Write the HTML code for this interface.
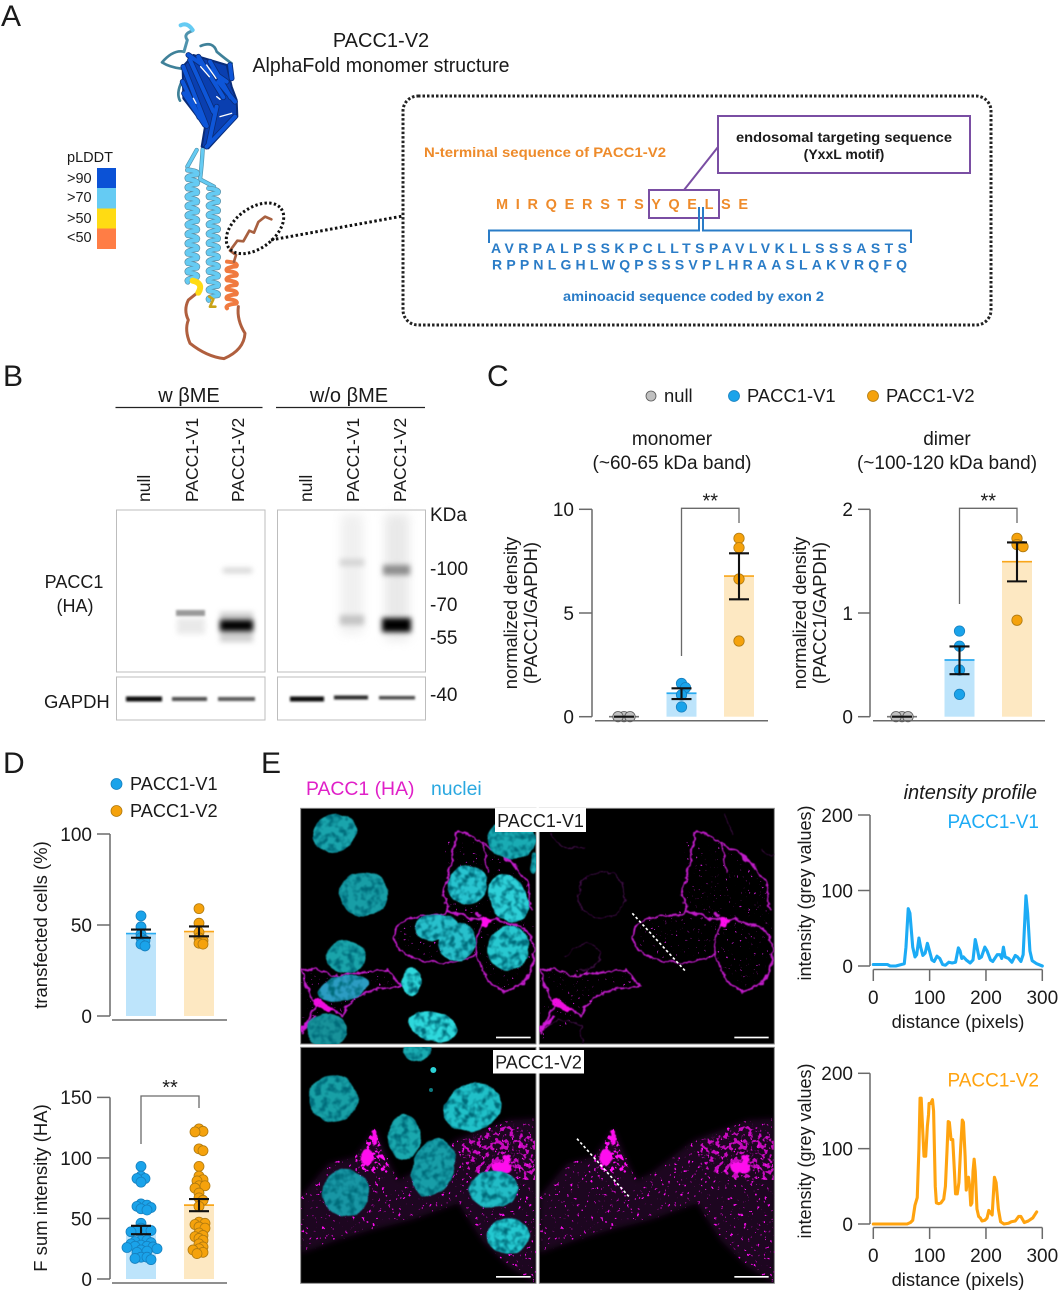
<!DOCTYPE html>
<html lang="en">
<head>
<meta charset="utf-8">
<title>PACC1-V2 figure</title>
<style>
html,body{margin:0;padding:0;background:#fff;width:1059px;height:1292px;overflow:hidden}
svg{display:block}
text{font-family:"Liberation Sans",Arial,sans-serif;fill:#1a1a1a}
</style>
</head>
<body>
<svg id="figure" xmlns="http://www.w3.org/2000/svg" width="1059" height="1292" viewBox="0 0 1059 1292">
<defs>
<filter id="blur1" x="-40%" y="-300%" width="180%" height="700%"><feGaussianBlur stdDeviation="1.1"/></filter>
<filter id="blur2" x="-40%" y="-300%" width="180%" height="700%"><feGaussianBlur stdDeviation="2.6"/></filter>
<filter id="blur5" x="-60%" y="-20%" width="220%" height="140%"><feGaussianBlur stdDeviation="5"/></filter>
<filter id="soft" x="-10%" y="-10%" width="120%" height="120%"><feGaussianBlur stdDeviation="1.4"/></filter>
<filter id="organic" x="-10%" y="-10%" width="120%" height="120%">
<feTurbulence type="fractalNoise" baseFrequency="0.035" numOctaves="3" seed="7" result="n"/>
<feDisplacementMap in="SourceGraphic" in2="n" scale="22" xChannelSelector="R" yChannelSelector="G"/>
<feGaussianBlur stdDeviation="1.3"/>
</filter>
<filter id="mottle" x="-10%" y="-10%" width="120%" height="120%" color-interpolation-filters="sRGB">
<feTurbulence type="fractalNoise" baseFrequency="0.025" numOctaves="2" seed="4" result="n"/>
<feDisplacementMap in="SourceGraphic" in2="n" scale="14" xChannelSelector="R" yChannelSelector="G" result="d"/>
<feTurbulence type="fractalNoise" baseFrequency="0.05" numOctaves="2" seed="9" result="m"/>
<feColorMatrix in="m" type="matrix" values="0 0 0 0 0  0 0 0 0 0.42  0 0 0 0 0.48  3.2 0 0 0 -1.35" result="dark"/>
<feComposite in="dark" in2="d" operator="in" result="dk"/>
<feMerge result="mg"><feMergeNode in="d"/><feMergeNode in="dk"/></feMerge>
<feGaussianBlur in="mg" stdDeviation="1.5"/>
</filter>
<filter id="puncta" x="0" y="0" width="100%" height="100%" color-interpolation-filters="sRGB">
<feTurbulence type="fractalNoise" baseFrequency="0.1" numOctaves="2" seed="12"/>
<feColorMatrix type="matrix" values="0 0 0 0 1  0 0 0 0 0.05  0 0 0 0 0.95  14 0 0 0 -9.6" result="p"/>
<feComposite in="p" in2="SourceAlpha" operator="in" result="q"/>
<feGaussianBlur in="q" stdDeviation="0.9"/>
</filter>
<filter id="punctaDense" x="0" y="0" width="100%" height="100%" color-interpolation-filters="sRGB">
<feTurbulence type="fractalNoise" baseFrequency="0.07" numOctaves="2" seed="21"/>
<feColorMatrix type="matrix" values="0 0 0 0 1  0 0 0 0 0.05  0 0 0 0 0.95  14 0 0 0 -7.4" result="p"/>
<feComposite in="p" in2="SourceAlpha" operator="in" result="q"/>
<feGaussianBlur in="q" stdDeviation="1"/>
</filter>
<filter id="punctaFaint" x="0" y="0" width="100%" height="100%" color-interpolation-filters="sRGB">
<feTurbulence type="fractalNoise" baseFrequency="0.12" numOctaves="2" seed="31"/>
<feColorMatrix type="matrix" values="0 0 0 0 0.75  0 0 0 0 0.1  0 0 0 0 0.78  12 0 0 0 -8.6" result="p"/>
<feComposite in="p" in2="SourceAlpha" operator="in" result="q"/>
<feGaussianBlur in="q" stdDeviation="0.9"/>
</filter>
<filter id="haze" x="-5%" y="-5%" width="110%" height="110%"><feGaussianBlur stdDeviation="9"/></filter>
<clipPath id="clipV1L"><rect x="17" y="25" width="706" height="707"/></clipPath>
<clipPath id="clipV1R"><rect x="733" y="25" width="705" height="707"/></clipPath>
<clipPath id="clipV2L"><rect x="17" y="22" width="706" height="708"/></clipPath>
<clipPath id="clipV2R"><rect x="733" y="22" width="705" height="708"/></clipPath>
</defs>

<!-- panel letters -->
<text x="1" y="26" font-size="30">A</text>
<text x="3" y="386" font-size="30">B</text>
<text x="487" y="386" font-size="30">C</text>
<text x="3" y="773" font-size="30">D</text>
<text x="261" y="773" font-size="30">E</text>

<!-- panel A -->
<g>
<text x="381" y="47" font-size="20" text-anchor="middle">PACC1-V2</text>
<text x="381" y="72" font-size="20" text-anchor="middle" textLength="257" lengthAdjust="spacingAndGlyphs">AlphaFold monomer structure</text>
<g>
<text x="67" y="162" font-size="14.5">pLDDT</text>
<text x="67" y="183" font-size="14.5">&gt;90</text>
<text x="67" y="202" font-size="14.5">&gt;70</text>
<text x="67" y="223" font-size="14.5">&gt;50</text>
<text x="67" y="242" font-size="14.5">&lt;50</text>
<rect x="97" y="168" width="19" height="20" fill="#0b52d6"/>
<rect x="97" y="188" width="19" height="20.500" fill="#65cbf3"/>
<rect x="97" y="208.500" width="19" height="20" fill="#ffdb13"/>
<rect x="97" y="228.500" width="19" height="20.500" fill="#ff7d45"/>
</g>
<g id="protein" transform="translate(50,10) scale(0.33333)" fill="none" stroke-linecap="round" stroke-linejoin="round">
<g>
<path d="M402 125 Q370 118 336 157 Q360 172 395 176 M452 108 Q490 92 500 125 Q530 150 545 160 M395 215 Q378 250 390 272" stroke="#3f8199" stroke-width="8"/>
<path d="M392 46 Q412 36 428 62 Q398 72 412 90 L402 125" stroke="#4f93ad" stroke-width="9"/>
<path d="M392 46 Q412 36 428 60" stroke="#65cbf3" stroke-width="12"/>
<path d="M440 420 L412 470 M458 418 Q455 470 450 508 L492 530" stroke="#4f93ad" stroke-width="13"/>
<path d="M440 420 L412 470 M458 418 Q455 470 450 508 L492 530" stroke="#65cbf3" stroke-width="9"/>
</g>
<g>
<polygon points="398,170 430,135 530,165 545,230 560,270 562,320 475,415 455,410 465,350 400,265" fill="#0a3fb0" stroke="#0a2c78" stroke-width="6"/>
<g stroke="#0a2c78" stroke-width="17">
<path d="M400 170 L470 348 M420 150 L490 305 M445 140 L520 262 M480 155 L542 262 M398 215 L448 322 M415 135 L530 215 M402 250 L465 345 M500 290 L475 405 M555 320 L470 410 M540 165 L545 205 M505 215 L555 275"/>
</g>
<g stroke="#0e56d8" stroke-width="12">
<path d="M400 170 L470 348 M420 150 L490 305 M445 140 L520 262 M480 155 L542 262 M398 215 L448 322 M415 135 L530 215 M402 250 L465 345 M500 290 L475 405 M555 320 L470 410 M540 165 L545 205 M505 215 L555 275"/>
</g>
<g stroke="#fff" stroke-width="4">
<path d="M452 170 L478 200 M470 165 L498 205 M500 260 L510 268 M430 265 L438 280 M545 310 L510 320"/>
</g>
</g>
<g id="helices"></g>
<path d="M440 850 L415 870 Q400 900 415 930 Q403 960 420 1000 Q470 1040 522 1046 Q582 1020 585 970 Q560 930 565 890" stroke="#b05f3e" stroke-width="9"/>
<path d="M428 812 Q462 820 445 848" stroke="#ffdb13" stroke-width="18"/>
<path d="M478 860 L490 868 L480 890 L496 890" stroke="#c9a317" stroke-width="8"/>
<path d="M552 755 L558 735 L540 722 L562 692 L580 694 L598 662 L612 668 L625 636 L645 620 L664 628" stroke="#a86040" stroke-width="8"/>
<ellipse cx="615" cy="655" rx="98" ry="60" transform="rotate(-37 615 655)" stroke="#111" stroke-width="9" stroke-dasharray="7 7" stroke-linecap="butt"/>
</g>
<line x1="271" y1="240" x2="403" y2="216" stroke="#111" stroke-width="3" stroke-dasharray="2.500 2.500"/>
<rect x="403" y="96" width="588" height="229" rx="15" fill="none" stroke="#222" stroke-width="3" stroke-dasharray="2.500 2"/>
<text x="424" y="157" font-size="14" font-weight="bold" style="fill:#ee8b2b" textLength="242" lengthAdjust="spacingAndGlyphs">N-terminal sequence of PACC1-V2</text>
<rect x="718" y="116" width="252" height="57" fill="#fff" stroke="#7a4ea3" stroke-width="2"/>
<text x="844" y="142" font-size="14" font-weight="bold" text-anchor="middle" textLength="216" lengthAdjust="spacingAndGlyphs">endosomal targeting sequence</text>
<text x="844" y="159" font-size="14" font-weight="bold" text-anchor="middle">(YxxL motif)</text>
<line x1="718" y1="147" x2="684" y2="190" stroke="#7a4ea3" stroke-width="2"/>
<rect x="649" y="190" width="70" height="28" fill="none" stroke="#7a4ea3" stroke-width="2"/>
<text x="496" y="209" font-size="14.500" font-weight="bold" style="fill:#ee8b2b" textLength="252" lengthAdjust="spacing">M I R Q E R S T S Y Q E L S E</text>
<path d="M489 243 V230.500 H699 V207 M703 207 V230.500 H911 V243" fill="none" stroke="#2a7cc7" stroke-width="2"/>
<text x="491" y="253" font-size="14" font-weight="bold" style="fill:#2a7cc7" textLength="416" lengthAdjust="spacing">AVRPALPSSKPCLLTSPAVLVKLLSSSASTS</text>
<text x="492" y="269.500" font-size="14" font-weight="bold" style="fill:#2a7cc7" textLength="415" lengthAdjust="spacing">RPPNLGHLWQPSSSVPLHRAASLAKVRQFQ</text>
<text x="563" y="301" font-size="14" font-weight="bold" style="fill:#2a7cc7" textLength="261" lengthAdjust="spacingAndGlyphs">aminoacid sequence coded by exon 2</text>
</g>

<!-- panel B -->
<g>
<text x="189" y="402" font-size="20" text-anchor="middle">w βME</text>
<text x="349" y="402" font-size="20" text-anchor="middle">w/o βME</text>
<line x1="115.500" y1="407.500" x2="262.500" y2="407.500" stroke="#222" stroke-width="1.300"/>
<line x1="276" y1="407.500" x2="425" y2="407.500" stroke="#222" stroke-width="1.300"/>
<text transform="translate(150,502) rotate(-90)" font-size="17.500">null</text>
<text transform="translate(198,502) rotate(-90)" font-size="17.500">PACC1-V1</text>
<text transform="translate(244,502) rotate(-90)" font-size="17.500">PACC1-V2</text>
<text transform="translate(312,502) rotate(-90)" font-size="17.500">null</text>
<text transform="translate(359,502) rotate(-90)" font-size="17.500">PACC1-V1</text>
<text transform="translate(406,502) rotate(-90)" font-size="17.500">PACC1-V2</text>
<text x="74" y="588" font-size="18" text-anchor="middle">PACC1</text>
<text x="75" y="612" font-size="18" text-anchor="middle">(HA)</text>
<text x="44" y="708" font-size="18.500">GAPDH</text>
<text x="430" y="521" font-size="19">KDa</text>
<text x="430" y="575" font-size="19">-100</text>
<text x="430" y="611" font-size="19">-70</text>
<text x="430" y="644" font-size="19">-55</text>
<text x="430" y="701" font-size="19">-40</text>
<g>
<rect x="116.500" y="510" width="148.500" height="162" fill="#fff" stroke="#bdbdbd" stroke-width="1"/>
<rect x="177" y="618" width="28" height="16" fill="#d8d8d8" opacity="0.55" filter="url(#blur2)"/>
<rect x="176" y="610" width="29" height="6" fill="#9a9a9a" filter="url(#blur1)"/>
<rect x="223" y="568" width="29" height="5" fill="#d2d2d2" filter="url(#blur2)"/>
<rect x="220" y="612" width="33" height="30" fill="#a0a0a0" opacity="0.5" filter="url(#blur2)"/>
<rect x="220" y="620" width="33" height="11" fill="#050505" filter="url(#blur2)"/>
</g>
<g>
<rect x="277.500" y="510" width="148" height="162" fill="#fff" stroke="#bdbdbd" stroke-width="1"/>
<rect x="341" y="514" width="22" height="120" fill="#ebebeb" opacity="0.75" filter="url(#blur5)"/>
<rect x="340" y="559" width="24" height="7" fill="#d4d4d4" filter="url(#blur2)"/>
<rect x="340" y="615" width="24" height="10" fill="#c4c4c4" filter="url(#blur2)"/>
<rect x="385" y="514" width="24" height="126" fill="#e2e2e2" opacity="0.75" filter="url(#blur5)"/>
<rect x="383" y="565" width="27" height="10" fill="#8c8c8c" filter="url(#blur2)"/>
<rect x="382" y="618" width="29" height="14" fill="#000" filter="url(#blur2)"/>
</g>
<g>
<rect x="116.500" y="677" width="148.500" height="43" fill="#fff" stroke="#bdbdbd" stroke-width="1"/>
<rect x="277.500" y="677" width="148" height="43" fill="#fff" stroke="#bdbdbd" stroke-width="1"/>
<rect x="126" y="696.500" width="36" height="5" fill="#0c0c0c" filter="url(#blur1)"/>
<rect x="172" y="697" width="35" height="4" fill="#505050" filter="url(#blur1)"/>
<rect x="218" y="697" width="37" height="4" fill="#5a5a5a" filter="url(#blur1)"/>
<rect x="290" y="696.500" width="34" height="5" fill="#0c0c0c" filter="url(#blur1)"/>
<rect x="334" y="695.500" width="34" height="4" fill="#2a2a2a" filter="url(#blur1)"/>
<rect x="379" y="696" width="36" height="3.500" fill="#4a4a4a" filter="url(#blur1)"/>
</g>
</g>

<!-- panel C static text -->
<g>
<circle cx="651" cy="396" r="5" fill="#c0c0c0" stroke="#555" stroke-width="0.8"/>
<text x="664" y="402" font-size="18.400">null</text>
<circle cx="734" cy="396" r="5.500" fill="#1aa3ea" stroke="#1680bf" stroke-width="0.8"/>
<text x="747" y="402" font-size="18.400">PACC1-V1</text>
<circle cx="873" cy="396" r="5.500" fill="#f5a20c" stroke="#b07a10" stroke-width="0.8"/>
<text x="886" y="402" font-size="18.400">PACC1-V2</text>
</g>
<text x="672" y="445" font-size="19" text-anchor="middle">monomer</text>
<text x="672" y="469" font-size="19" text-anchor="middle">(~60-65 kDa band)</text>
<text x="947" y="445" font-size="19" text-anchor="middle">dimer</text>
<text x="947" y="469" font-size="19" text-anchor="middle">(~100-120 kDa band)</text>
<text transform="translate(517,613) rotate(-90)" font-size="18.300" text-anchor="middle">normalized density</text>
<text transform="translate(537,613) rotate(-90)" font-size="18.300" text-anchor="middle">(PACC1/GAPDH)</text>
<text transform="translate(806,613) rotate(-90)" font-size="18.300" text-anchor="middle">normalized density</text>
<text transform="translate(826,613) rotate(-90)" font-size="18.300" text-anchor="middle">(PACC1/GAPDH)</text>

<!-- panel D static text -->
<g>
<circle cx="116.500" cy="784" r="5.500" fill="#1aa3ea" stroke="#1680bf" stroke-width="0.8"/>
<text x="130" y="790" font-size="18.200">PACC1-V1</text>
<circle cx="116.500" cy="811" r="5.500" fill="#f5a20c" stroke="#b07a10" stroke-width="0.8"/>
<text x="130" y="817" font-size="18.200">PACC1-V2</text>
</g>
<text transform="translate(47,925) rotate(-90)" font-size="18.500" text-anchor="middle">transfected cells (%)</text>
<text transform="translate(47,1188) rotate(-90)" font-size="18.500" text-anchor="middle">F sum intensity (HA)</text>

<!-- panel E -->
<g>
<text x="306" y="795" font-size="19.400" style="fill:#e020c8">PACC1 (HA)</text>
<text x="431" y="795" font-size="19.400" style="fill:#2aa8e0">nuclei</text>
<text x="1037" y="799" font-size="20" font-style="italic" text-anchor="end">intensity profile</text>

<g transform="translate(295,800) scale(0.33333)">
<rect x="17" y="25" width="706" height="707" fill="#000" stroke="#888" stroke-width="3"/>
<rect x="733" y="25" width="705" height="707" fill="#000" stroke="#888" stroke-width="3"/>
<g clip-path="url(#clipV1L)">
<g id="v1Membrane" fill="none" stroke="#c01ac8" stroke-width="5" filter="url(#organic)" stroke-linecap="round">
<path d="M490 92 L560 128 Q650 170 695 250 L710 330 M490 92 Q470 170 460 230 Q440 260 445 290 Q465 320 460 335 M560 128 Q580 180 575 215 M460 335 Q520 350 565 368"/>
<path d="M565 368 Q510 345 460 335 Q400 355 340 352 Q300 375 300 410 Q310 460 350 470 Q400 490 450 490 Q510 480 545 465 Q540 420 565 368"/>
<path d="M565 368 L600 360 Q680 370 705 410 Q725 450 715 490 Q700 560 620 575 Q580 560 545 465"/>
<path d="M20 510 Q60 500 110 525 Q190 520 275 508 Q300 540 320 560 Q240 560 190 590 Q150 620 140 650 Q100 610 60 610 Q30 570 20 510 M70 610 Q30 670 20 700"/>
<path d="M65 605 L105 628" stroke="#f010e0" stroke-width="20"/>
<path d="M20 690 L60 650" stroke="#d014d8" stroke-width="10"/>
<circle cx="570" cy="368" r="12" fill="#ff10ee" stroke="#ff10ee"/>
<path d="M545 340 L552 352" stroke-width="10"/>
</g>
<polygon points="450,120 560,130 700,260 715,350 720,500 620,575 545,470 350,480 300,410 340,350 450,330" filter="url(#punctaFaint)"/>
<polygon points="20,510 275,510 320,560 190,590 140,650 20,720" filter="url(#punctaFaint)"/>
<g filter="url(#mottle)" fill="#1fb4bc">
<ellipse cx="118" cy="100" rx="66" ry="58" transform="rotate(-20 118 100)" fill="#1aa4ac"/>
<ellipse cx="205" cy="282" rx="74" ry="66" fill="#189ea6"/>
<ellipse cx="152" cy="470" rx="60" ry="48" fill="#1aa4aa"/>
<ellipse cx="145" cy="565" rx="76" ry="38" transform="rotate(-14 145 565)" fill="#2c9cc2"/>
<ellipse cx="95" cy="692" rx="60" ry="52" fill="#18929a"/>
<ellipse cx="415" cy="680" rx="74" ry="44" transform="rotate(14 415 680)" fill="#2ed8dc"/>
<ellipse cx="518" cy="255" rx="58" ry="58" fill="#28c4d0"/>
<ellipse cx="640" cy="295" rx="56" ry="76" transform="rotate(-28 640 295)" fill="#2ed0d8"/>
<ellipse cx="640" cy="445" rx="60" ry="68" transform="rotate(15 640 445)" fill="#28c8d0"/>
<ellipse cx="425" cy="382" rx="68" ry="40" fill="#28c0cc"/>
<ellipse cx="485" cy="425" rx="56" ry="58" fill="#28c0cc"/>
<ellipse cx="650" cy="118" rx="74" ry="60" fill="#1aacb4"/>
<ellipse cx="350" cy="545" rx="30" ry="42" fill="#2ed8dc"/>
<ellipse cx="718" cy="188" rx="12" ry="30" fill="#1aacb4"/>
</g>
</g>
<g clip-path="url(#clipV1R)">
<use href="#v1Membrane" x="716"/>
<polygon points="1166,120 1276,130 1416,260 1431,350 1436,500 1336,575 1261,470 1066,480 1016,410 1056,350 1166,330" filter="url(#punctaFaint)"/>
<polygon points="736,510 991,510 1036,560 906,590 856,650 736,720" filter="url(#punctaFaint)"/>
<g fill="none" stroke="#3d0b44" stroke-width="3" filter="url(#organic)">
<path d="M770 100 Q790 160 870 140 M1290 40 L1310 100 M1400 150 Q1420 180 1438 160"/>
<circle cx="920" cy="285" r="70"/>
<path d="M810 470 Q880 400 920 460 Q915 510 850 510"/>
<path d="M750 690 Q790 640 860 680 L860 730"/>
</g>
<line x1="1012" y1="340" x2="1170" y2="512" stroke="#fff" stroke-width="5" stroke-dasharray="8 7"/>
</g>
<rect x="603" y="710" width="104" height="5" fill="#fff"/>
<rect x="1318" y="710" width="103" height="5" fill="#fff"/>
</g>

<g transform="translate(295,1040) scale(0.33333)">
<rect x="17" y="22" width="706" height="708" fill="#000" stroke="#888" stroke-width="3"/>
<rect x="733" y="22" width="705" height="708" fill="#000" stroke="#888" stroke-width="3"/>
<g clip-path="url(#clipV2L)">
<g id="v2Magenta">
<polygon points="17,640 17,470 100,370 180,350 240,265 285,370 310,420 350,400 480,300 640,240 723,235 723,730 640,680 560,600 490,490 350,540 230,570 130,600" fill="#3a0a40" opacity="0.5" filter="url(#haze)"/>
<polygon points="17,640 17,470 100,370 180,350 240,265 285,370 310,420 350,400 480,300 640,240 723,235 723,730 640,680 560,600 490,490 350,540 230,570 130,600" filter="url(#puncta)"/>
<polygon points="215,300 240,265 262,340 285,385 240,400 190,385 180,350" filter="url(#punctaDense)"/>
<polygon points="500,300 660,250 720,300 720,420 600,420 500,380" filter="url(#punctaDense)" opacity="0.75"/>
<g fill="#ff10ee" filter="url(#organic)">
<ellipse cx="218" cy="350" rx="20" ry="22"/>
<ellipse cx="236" cy="295" rx="8" ry="20"/>
<ellipse cx="622" cy="382" rx="34" ry="18"/>
<ellipse cx="634" cy="358" rx="10" ry="14"/>
</g>
</g>
<g filter="url(#mottle)">
<ellipse cx="115" cy="175" rx="74" ry="70" fill="#18a0a6"/>
<ellipse cx="365" cy="28" rx="42" ry="36" fill="#1aacb2"/>
<ellipse cx="532" cy="202" rx="88" ry="70" transform="rotate(-20 532 202)" fill="#20c0c8"/>
<ellipse cx="328" cy="292" rx="49" ry="68" fill="#1aa8ae"/>
<ellipse cx="415" cy="382" rx="62" ry="88" transform="rotate(20 415 382)" fill="#189ea8"/>
<ellipse cx="152" cy="458" rx="70" ry="70" fill="#1896a4"/>
<ellipse cx="595" cy="447" rx="74" ry="56" fill="#22bcc6"/>
<ellipse cx="640" cy="587" rx="62" ry="54" fill="#24c8d0"/>
</g>
<circle cx="415" cy="90" r="9" fill="#2cd2d6"/>
<circle cx="408" cy="150" r="6" fill="#0e7a80"/>
</g>
<g clip-path="url(#clipV2R)">
<use href="#v2Magenta" x="716"/>
<line x1="846" y1="296" x2="1002" y2="470" stroke="#fff" stroke-width="5" stroke-dasharray="8 7"/>
</g>
<rect x="603" y="708" width="104" height="5" fill="#fff"/>
<rect x="1318" y="708" width="103" height="5" fill="#fff"/>
</g>
<rect x="495" y="808" width="91" height="24" fill="#fff"/>
<text x="540.500" y="827" font-size="18" text-anchor="middle">PACC1-V1</text>
<rect x="493" y="1050" width="91" height="23.500" fill="#fff"/>
<text x="538.500" y="1068.500" font-size="18" text-anchor="middle">PACC1-V2</text>
</g>
<g id="charts"></g>
</svg>

<script>
const NS = 'http://www.w3.org/2000/svg';

// shared groups
const barGroups = ['null', 'PACC1-V1', 'PACC1-V2'];
const transfectionGroups = ['PACC1-V1', 'PACC1-V2'];

// monomer panel
const monomerTicks = [0, 5, 10];
const monomerMeans = [0, 1.13, 6.78];
const monomerUpper = [0, 1.37, 7.88];
const monomerLower = [0, 0.85, 5.66];
const monomerNull = [0, 0, 0];
const monomerV1 = [1.6, 1.4, 1.05, 0.47];
const monomerV2 = [8.6, 8.15, 6.64, 3.65];

// dimer panel
const dimerTicks = [0, 1, 2];
const dimerMeans = [0, 0.547, 1.495];
const dimerUpper = [0, 0.678, 1.68];
const dimerLower = [0, 0.41, 1.305];
const dimerNull = [0, 0, 0];
const dimerV1 = [0.826, 0.68, 0.45, 0.215];
const dimerV2 = [1.72, 1.66, 1.64, 0.93];

// transfected cells panel
const transfectedTicks = [0, 50, 100];
const transfectedMeans = [45.3, 46.4];
const transfectedUpper = [47.5, 49.2];
const transfectedLower = [43, 43.8];
const transfectedV1 = [55, 49, 45, 43, 41.5, 39.5, 38.5];
const transfectedV2 = [59, 51, 46, 43, 41.5, 40, 39.5];

// F sum intensity panel
const fsumTicks = [0, 50, 100, 150];
const fsumMeans = [40.5, 61];
const fsumUpper = [43.9, 66];
const fsumLower = [37, 56];
const fsumV1 = [93, 85, 83, 83, 80, 62, 61, 60, 59, 58, 57, 46, 42, 40.5, 40, 40, 39, 32, 32, 31, 30, 29, 28, 27, 27, 26.5, 26, 25, 24, 23, 22, 18, 18, 17, 16];
const fsumV2 = [124, 122, 121.5, 107.5, 106, 93, 85, 82, 81, 77, 77, 75, 71, 67, 65, 60, 47, 46, 45, 43, 42, 38, 36, 35, 33.5, 32, 29, 26.5, 25, 24, 22, 21];

// intensity profiles
const profileYTicks = [0, 100, 200];
const profileXTicks = [0, 100, 200, 300];
const v1Distance = [0, 10, 25, 30, 40, 50, 55, 58, 62, 65, 70, 74, 77, 81, 84, 88, 92, 96, 99, 104, 108, 113, 118, 123, 128, 134, 140, 146, 151, 154, 157, 160, 165, 172, 177, 181, 184, 188, 192, 198, 202, 208, 212, 220, 225, 228, 231, 234, 240, 246, 252, 256, 262, 266, 271, 274, 278, 282, 290, 300];
const v1Intensity = [2, 2, 2, 0, 0, 2, 3, 25, 76, 70, 25, 12, 15, 37, 25, 14, 17, 30, 22, 8, 6, 13, 10, 2, 1, 5, 4, 5, 24, 20, 10, 12, 8, 4, 8, 35, 25, 10, 12, 25, 20, 8, 6, 15, 15, 10, 25, 12, 10, 5, 14, 12, 6, 15, 93, 70, 20, 7, 3, 0];
const v2Distance = [0, 60, 66, 70, 74, 78, 81, 83, 85, 88, 90, 93, 96, 98, 99, 102, 105, 107, 110, 112, 116, 120, 125, 128, 131, 133, 135, 138, 141, 144, 146, 149, 152, 155, 158, 160, 163, 165, 167, 169, 171, 173, 175, 177, 179, 181, 184, 187, 190, 193, 198, 202, 205, 208, 211, 215, 218, 222, 226, 232, 240, 245, 252, 258, 262, 268, 275, 283, 290];
const v2Intensity = [0, 0, 2, 5, 25, 35, 100, 167, 167, 120, 90, 90, 130, 145, 160, 160, 165, 150, 50, 28, 27, 28, 33, 50, 100, 136, 135, 112, 112, 70, 40, 40, 55, 100, 138, 135, 90, 45, 60, 62, 50, 25, 28, 70, 86, 70, 20, 10, 8, 4, 5, 8, 18, 15, 12, 62, 55, 20, 3, 0, 1, 3, 4, 10, 10, 2, 4, 8, 16];

const root = document.getElementById('charts');
const axisColor = '#6a6a6a';
const palette = {
  'null': { fill: '#c0c0c0', edge: '#555555', bar: 'none', top: '#777777' },
  'PACC1-V1': { fill: '#1aa3ea', edge: '#1680bf', bar: '#bde4fb', top: '#29aaf0' },
  'PACC1-V2': { fill: '#f5a20c', edge: '#b07a10', bar: '#fde8c2', top: '#f9a61a' }
};

function make(tag, parent, attrs) {
  const e = document.createElementNS(NS, tag);
  for (const k in attrs) e.setAttribute(k, attrs[k]);
  parent.appendChild(e);
  return e;
}

function scale(d0, d1, r0, r1) {
  return function (v) { return r0 + (v - d0) * (r1 - r0) / (d1 - d0); };
}

// deterministic beeswarm: places each value at the nearest free horizontal slot
function swarm(values, y, dist, step) {
  const placed = [];
  values.slice().sort(function (a, b) { return b - a; }).forEach(function (v) {
    const py = y(v);
    let off = 0;
    for (let n = 0; n < 60; n++) {
      const c = (n % 2 ? 1 : -1) * Math.ceil(n / 2) * step;
      if (placed.every(function (p) { return Math.hypot(p.off - c, p.y - py) >= dist; })) { off = c; break; }
    }
    placed.push({ off: off, y: py });
  });
  return placed;
}

function drawYAxis(parent, prefix, ticks, y, axisX, tickLen, fontSize) {
  const spine = make('line', parent, { x1: axisX, x2: axisX, y1: y(ticks[0]), y2: y(ticks[ticks.length - 1]), stroke: axisColor, 'stroke-width': 1.5 });
  
  
  ticks.forEach(function (t) {
    const mark = make('line', parent, { x1: axisX - tickLen, x2: axisX, y1: y(t), y2: y(t), stroke: axisColor, 'stroke-width': 1.5 });
    
    
    const label = make('text', parent, { x: axisX - tickLen - 5, y: y(t) + fontSize * 0.36, 'font-size': fontSize, 'text-anchor': 'end' });
    label.textContent = t;
    
    
  });
}

function drawBracket(parent, prefix, xa, xb, top, leftEnd, rightEnd, starY) {
  const path = make('path', parent, { d: 'M' + xa + ' ' + leftEnd + ' V' + top + ' H' + xb + ' V' + rightEnd, fill: 'none', stroke: axisColor, 'stroke-width': 1.3 });
  
  
  const stars = make('text', parent, { x: (xa + xb) / 2, y: starY, 'font-size': 20, 'text-anchor': 'middle' });
  stars.textContent = '**';
  
  
}

function drawBarPanel(cfg) {
  const g = make('g', root, {});
  
  
  const y = scale(cfg.ticks[0], cfg.ticks[cfg.ticks.length - 1], cfg.y0, cfg.y1);
  const x = function (i) { return cfg.x0 + i * cfg.step; };

  cfg.groups.forEach(function (group, i) {
    const c = palette[group];
    if (c.bar !== 'none') {
      const bar = make('rect', g, { x: x(i) - cfg.barW / 2, y: y(cfg.means[i]), width: cfg.barW, height: y(0) - y(cfg.means[i]), fill: c.bar });
      
      
    }
    const top = make('line', g, { x1: x(i) - cfg.barW / 2, x2: x(i) + cfg.barW / 2, y1: y(cfg.means[i]), y2: y(cfg.means[i]), stroke: c.top, 'stroke-width': 1.7 });
    
    
    swarm(cfg.points[i], y, cfg.dist, cfg.swarmStep).forEach(function (p, k) {
      const dot = make('circle', g, { cx: x(i) + p.off, cy: p.y, r: cfg.r, fill: c.fill, stroke: c.edge, 'stroke-width': 0.8 });
      
      
    });
  });

  cfg.groups.forEach(function (group, i) {
    const up = y(cfg.upper[i]), lo = y(cfg.lower[i]);
    const err = make('path', g, { d: 'M' + x(i) + ' ' + up + ' V' + lo + ' M' + (x(i) - cfg.cap) + ' ' + up + ' H' + (x(i) + cfg.cap) + ' M' + (x(i) - cfg.cap) + ' ' + lo + ' H' + (x(i) + cfg.cap), fill: 'none', stroke: '#111', 'stroke-width': 2.1 });
    
    
  });

  drawYAxis(g, cfg.name, cfg.ticks, y, cfg.axisX, cfg.tickLen, 19);
  const base = make('line', g, { x1: cfg.baseX1, x2: cfg.baseX2, y1: cfg.y0 + 4, y2: cfg.y0 + 4, stroke: axisColor, 'stroke-width': 1.5 });
  
  
  if (cfg.bracket) {
    const b = cfg.bracket;
    drawBracket(g, cfg.name, x(b.from), x(b.to), b.top, b.leftEnd, b.rightEnd, b.starY);
  }
}

function drawProfile(cfg) {
  const g = make('g', root, {});
  
  
  const xs = scale(0, 300, 873.3, 1042.3);
  const ys = scale(0, 200, cfg.y0, cfg.y200);
  drawYAxis(g, cfg.name, profileYTicks, ys, 870, 12, 19);
  const axis = make('line', g, { x1: xs(0), x2: xs(300), y1: cfg.y0 + 3.5, y2: cfg.y0 + 3.5, stroke: axisColor, 'stroke-width': 1.5 });
  
  
  profileXTicks.forEach(function (t) {
    const mark = make('line', g, { x1: xs(t), x2: xs(t), y1: cfg.y0 + 3.5, y2: cfg.y0 + 15, stroke: axisColor, 'stroke-width': 1.5 });
    
    
    const label = make('text', g, { x: xs(t), y: cfg.y0 + 38, 'font-size': 19, 'text-anchor': 'middle' });
    label.textContent = t;
    
    
  });
  const d = cfg.dist.map(function (v, i) { return (i ? 'L' : 'M') + xs(v).toFixed(2) + ' ' + ys(cfg.vals[i]).toFixed(2); }).join(' ');
  const line = make('path', g, { d: d, fill: 'none', stroke: cfg.color, 'stroke-width': 3.1, 'stroke-linejoin': 'round', 'stroke-linecap': 'round' });
  
  
  const title = make('text', g, { x: 1039, y: cfg.y200 + 13, 'font-size': 19, 'text-anchor': 'end', style: 'fill:' + cfg.color });
  title.textContent = cfg.label;
  
  
  const xt = make('text', g, { x: 958, y: cfg.y0 + 62, 'font-size': 18.4, 'text-anchor': 'middle' });
  xt.textContent = 'distance (pixels)';
  
  
  const yt = make('text', g, { transform: 'translate(811,' + (cfg.y0 - 73) + ') rotate(-90)', 'font-size': 18, 'text-anchor': 'middle' });
  yt.textContent = 'intensity (grey values)';
  
  
}

drawBarPanel({ name: 'monomer', groups: barGroups, ticks: monomerTicks, means: monomerMeans, upper: monomerUpper, lower: monomerLower,
  points: [monomerNull, monomerV1, monomerV2], y0: 716.7, y1: 509.3, x0: 624, step: 57.5, barW: 30, cap: 10, r: 5.2, dist: 5, swarmStep: 2,
  axisX: 592, tickLen: 13, baseX1: 595, baseX2: 768, bracket: { from: 1, to: 2, top: 508.3, leftEnd: 656, rightEnd: 523, starY: 507.5 } });

drawBarPanel({ name: 'dimer', groups: barGroups, ticks: dimerTicks, means: dimerMeans, upper: dimerUpper, lower: dimerLower,
  points: [dimerNull, dimerV1, dimerV2], y0: 716.7, y1: 509.3, x0: 902, step: 57.5, barW: 30, cap: 10, r: 5.2, dist: 5, swarmStep: 2,
  axisX: 870, tickLen: 12, baseX1: 873, baseX2: 1045, bracket: { from: 1, to: 2, top: 508.3, leftEnd: 604, rightEnd: 523, starY: 507.5 } });

drawBarPanel({ name: 'transfected', groups: transfectionGroups, ticks: transfectedTicks, means: transfectedMeans, upper: transfectedUpper, lower: transfectedLower,
  points: [transfectedV1, transfectedV2], y0: 1016, y1: 834, x0: 141, step: 58, barW: 30, cap: 10, r: 5, dist: 3.5, swarmStep: 2,
  axisX: 110, tickLen: 13, baseX1: 112, baseX2: 227 });

drawBarPanel({ name: 'fsum', groups: transfectionGroups, ticks: fsumTicks, means: fsumMeans, upper: fsumUpper, lower: fsumLower,
  points: [fsumV1, fsumV2], y0: 1279, y1: 1097.4, x0: 141, step: 58, barW: 30, cap: 10, r: 5, dist: 4.2, swarmStep: 2,
  axisX: 110, tickLen: 13, baseX1: 112, baseX2: 227, bracket: { from: 0, to: 1, top: 1096, leftEnd: 1144, rightEnd: 1108, starY: 1094 } });

drawProfile({ name: 'profile-v1', dist: v1Distance, vals: v1Intensity, y0: 966, y200: 815, color: '#1cabf5', label: 'PACC1-V1' });
drawProfile({ name: 'profile-v2', dist: v2Distance, vals: v2Intensity, y0: 1224, y200: 1073.3, color: '#ffa30f', label: 'PACC1-V2' });

// alpha helices of the ribbon
function helixPath(x, y0, y1, amp, period) {
  let d = 'M' + (x - amp) + ' ' + y0;
  let side = 1;
  for (let yy = y0; yy < y1; yy += period / 2) {
    d += ' Q' + (x + side * amp * 1.6) + ' ' + (yy + period / 8) + ' ' + (x + side * amp) + ' ' + (yy + period / 2);
    side = -side;
  }
  return d;
}
const helices = document.getElementById('helices');
const helixOutline = make('path', helices, { d: helixPath(427, 480, 805, 14, 28), stroke: '#5b8ea3', 'stroke-width': 16 });


const helixOne = make('path', helices, { d: helixPath(427, 480, 805, 14, 28), stroke: '#65cbf3', 'stroke-width': 12 });


const helixTwoOutline = make('path', helices, { d: helixPath(490, 535, 865, 14, 28), stroke: '#5b8ea3', 'stroke-width': 15 });


const helixTwo = make('path', helices, { d: helixPath(490, 535, 865, 14, 28), stroke: '#65cbf3', 'stroke-width': 11 });


const helixThree = make('path', helices, { d: helixPath(545, 755, 890, 14, 28), stroke: '#f07a3f', 'stroke-width': 12 });


</script>
</body>
</html>
